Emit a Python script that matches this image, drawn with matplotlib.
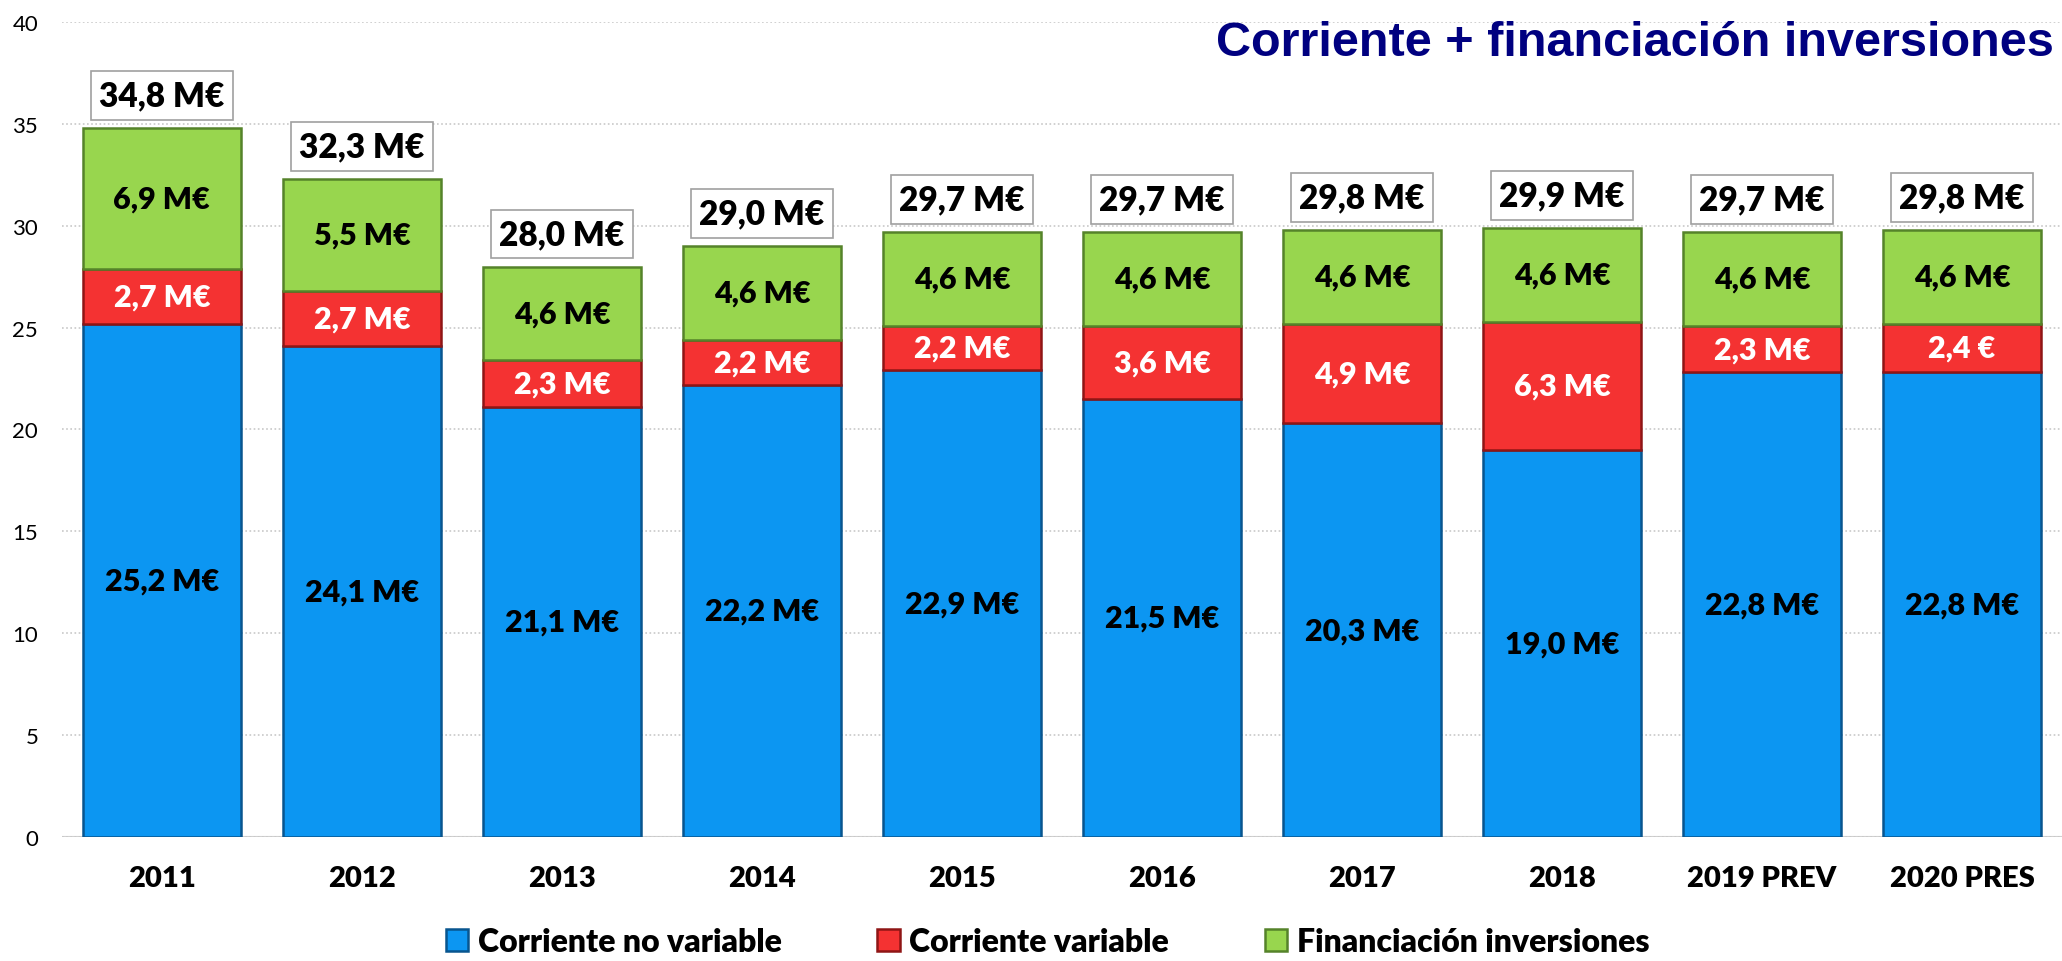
import numpy as np
import matplotlib.pyplot as plt
from matplotlib import font_manager

years = ["2011", "2012", "2013", "2014", "2015", "2016", "2017", "2018", "2019 PREV", "2020 PRES"]
no_variable = [25.2, 24.1, 21.1, 22.2, 22.9, 21.5, 20.3, 19.0, 22.8, 22.8]
variable = [2.7, 2.7, 2.3, 2.2, 2.2, 3.6, 4.9, 6.3, 2.3, 2.4]
inversiones = [6.9, 5.5, 4.6, 4.6, 4.6, 4.6, 4.6, 4.6, 4.6, 4.6]
totales = [34.8, 32.3, 28.0, 29.0, 29.7, 29.7, 29.8, 29.9, 29.7, 29.8]
# the original has "2,4 €" for the last red segment, kept as is
variable_txt = ["2,7 M€", "2,7 M€", "2,3 M€", "2,2 M€", "2,2 M€", "3,6 M€", "4,9 M€", "6,3 M€", "2,3 M€", "2,4 €"]

names = [f.name for f in font_manager.fontManager.ttflist]
title_font = "Liberation Sans Narrow" if "Liberation Sans Narrow" in names else "Liberation Sans"
plt.rcParams['font.family'] = ['Lato', 'DejaVu Sans']
heavy = "heavy"

def fmt(v):
    return ("%.1f" % v).replace(".", ",") + " M€"

fig = plt.figure(figsize=(20.62, 9.62), dpi=100)
ax = fig.add_axes([0.030, 0.129, 0.970, 0.847])

x = np.arange(len(years))
w = 0.79
blue = "#0C96F2"; red = "#F43232"; green = "#98D64E"
b1 = ax.bar(x, no_variable, w, color=blue, edgecolor="#08558F", linewidth=1.8, label="Corriente no variable", zorder=3)
b2 = ax.bar(x, variable, w, bottom=no_variable, color=red, edgecolor="#8F1515", linewidth=1.8, label="Corriente variable", zorder=3)
bottom3 = np.array(no_variable) + np.array(variable)
b3 = ax.bar(x, inversiones, w, bottom=bottom3, color=green, edgecolor="#55832A", linewidth=1.8, label="Financiación inversiones", zorder=3)

for i in range(len(years)):
    ax.text(x[i], no_variable[i] / 2, fmt(no_variable[i]), ha="center", va="center",
            fontsize=22, fontweight=heavy, color="black", zorder=4)
    ax.text(x[i], no_variable[i] + variable[i] / 2, variable_txt[i], ha="center", va="center",
            fontsize=22, fontweight=heavy, color="white", zorder=4)
    ax.text(x[i], bottom3[i] + inversiones[i] / 2, fmt(inversiones[i]), ha="center", va="center",
            fontsize=22, fontweight=heavy, color="black", zorder=4)
    ax.text(x[i], totales[i] + 1.6, fmt(totales[i]), ha="center", va="center",
            fontsize=24, fontweight=heavy, color="black", zorder=4,
            bbox=dict(boxstyle="square,pad=0.25", facecolor="white", edgecolor="#A0A0A0", linewidth=1.2))

ax.set_ylim(0, 40)
ax.set_xlim(-0.5, len(years) - 0.5)
ax.set_yticks(np.arange(0, 41, 5))
ax.set_xticks(x)
ax.set_xticklabels(years, fontsize=21, fontweight=heavy)
ax.tick_params(axis="y", labelsize=16, length=0, pad=17)
ax.tick_params(axis="x", length=0, pad=20)
for s in ax.spines.values():
    s.set_visible(False)
ax.yaxis.grid(True, linestyle=(0, (1, 1.5)), color="#C8C8C8", linewidth=1.2, zorder=0)
ax.axhline(0, color="#D0D0D0", linewidth=1.5, zorder=1)

fig.text(0.996, 0.955, "Corriente + financiación inversiones", ha="right", va="center",
         fontsize=35, fontweight="bold", color="#000080", family=title_font)

fig.legend(handles=[b1, b2, b3], loc="center", bbox_to_anchor=(0.508, 0.02), ncol=3,
           frameon=False, prop={"weight": heavy, "size": 23},
           handlelength=0.7, handleheight=0.7, handletextpad=0.3, columnspacing=3.0)

fig.savefig("out.png", dpi=100)
